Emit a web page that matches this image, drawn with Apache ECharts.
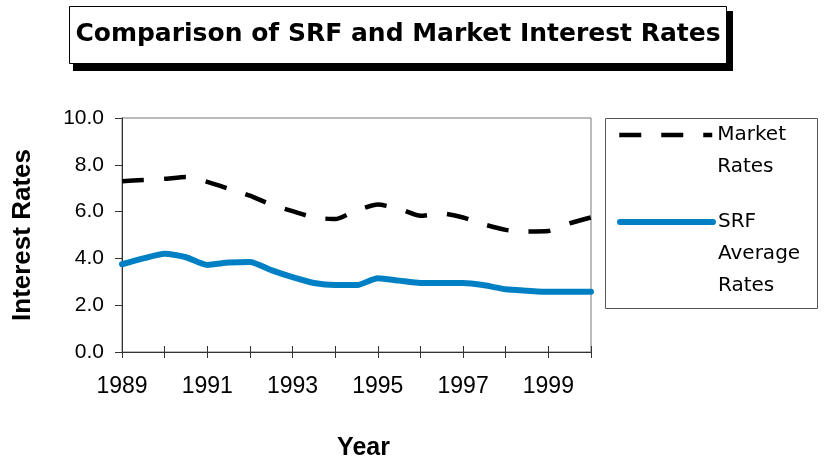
<!DOCTYPE html>
<html>
<head>
<meta charset="utf-8">
<script src="https://cdn.jsdelivr.net/npm/echarts@6/dist/echarts.min.js"></script>
<style>
  html, body { margin: 0; padding: 0; background: #fff; }
  #myChart { width: 826px; height: 458px; }
</style>
</head>
<body>
<div id="myChart"></div>
<script>
// half-year points
const years = [1989, 1989.5, 1990, 1990.5, 1991, 1991.5, 1992, 1992.5, 1993, 1993.5, 1994, 1994.5,
               1995, 1995.5, 1996, 1996.5, 1997, 1997.5, 1998, 1998.5, 1999, 1999.5, 2000];
const marketRates = [7.3, 7.35, 7.4, 7.48, 7.27, 6.98, 6.68, 6.3, 6.02, 5.75, 5.68, 6.05,
                     6.3, 6.12, 5.82, 5.92, 5.75, 5.45, 5.22, 5.15, 5.17, 5.5, 5.75];
const srfRates = [3.75, 4.0, 4.2, 4.05, 3.72, 3.82, 3.85, 3.5, 3.2, 2.95, 2.86, 2.86,
                  3.15, 3.05, 2.95, 2.95, 2.95, 2.85, 2.68, 2.62, 2.57, 2.57, 2.57];
const seriesNames = ['Market Rates', 'SRF Average Rates'];
// blank lines in front keep the first line level with the legend line
const legendLabels = ['\u00a0\nMarket\nRates', '\u00a0\n\u00a0\nSRF\nAverage\nRates'];

function pairs(xs, ys) {
    let out = [];
    xs.forEach((x, i) => { out.push([x, ys[i]]); });
    return out;
}

let myChart = echarts.init(document.getElementById('myChart'));

let tickFont = 'Liberation Sans, Arial, sans-serif';
let xAxisBase = {
    type: 'value',
    min: 1989,
    max: 2000,
    interval: 1,
    splitLine: { show: false }
};
let legendText = { fontFamily: 'DejaVu Sans', fontSize: 20, color: '#000', lineHeight: 32 };

let option = {
    animation: false,
    backgroundColor: '#fff',
    grid: {
        left: 122, right: 235, top: 118, bottom: 106,
        outerBoundsMode: 'none',
        show: true, borderColor: '#777', borderWidth: 1
    },
    graphic: [
        // title box with drop shadow
        { type: 'rect', shape: { x: 73, y: 11, width: 660, height: 60 }, style: { fill: '#000' } },
        { type: 'rect', shape: { x: 69.5, y: 6.5, width: 657, height: 57 }, style: { fill: '#fff', stroke: '#000', lineWidth: 1 } },
        {
            type: 'text', x: 398, y: 34,
            style: {
                text: 'Comparison of SRF and Market Interest Rates',
                fontFamily: 'DejaVu Sans', fontWeight: 'bold', fontSize: 25,
                fill: '#000', align: 'center', verticalAlign: 'middle'
            }
        },
        // legend frame
        { type: 'rect', shape: { x: 605.5, y: 118.5, width: 212, height: 190 }, style: { fill: 'none', stroke: '#555', lineWidth: 1 } }
    ],
    legend: [
        {
            data: [seriesNames[0]],
            orient: 'vertical', left: 617, top: 87, padding: 0,
            itemWidth: 93, itemHeight: 14, selectedMode: false,
            formatter: () => legendLabels[0],
            itemStyle: { opacity: 0 },
            lineStyle: { width: 4.5, type: [22, 20], cap: 'butt' },
            textStyle: legendText
        },
        {
            data: [seriesNames[1]],
            orient: 'vertical', left: 617, top: 142, padding: 0,
            itemWidth: 93, itemHeight: 14, selectedMode: false,
            formatter: () => legendLabels[1],
            itemStyle: { opacity: 0 },
            lineStyle: { width: 6, cap: 'round' },
            textStyle: legendText
        }
    ],
    xAxis: [
        Object.assign({}, xAxisBase, {
            position: 'bottom',
            name: 'Year',
            nameLocation: 'middle',
            nameGap: 84,
            nameTextStyle: { fontFamily: tickFont, fontWeight: 'bold', fontSize: 25, color: '#000', padding: [0, 0, 0, 14] },
            axisLine: { lineStyle: { color: '#333', width: 1 } },
            axisTick: { inside: true, length: 6, lineStyle: { color: '#333' } },
            axisLabel: {
                margin: 23,
                fontFamily: tickFont, fontSize: 23, color: '#000',
                formatter: (v) => (v % 2 === 1 ? String(v) : '')
            }
        }),
        Object.assign({}, xAxisBase, {
            position: 'top',
            offset: -234,
            axisLine: { show: false },
            axisTick: { inside: true, length: 6, lineStyle: { color: '#333' } },
            axisLabel: { show: false }
        })
    ],
    yAxis: {
        type: 'value',
        min: 0,
        max: 10,
        interval: 2,
        name: 'Interest Rates',
        nameLocation: 'middle',
        nameGap: 86,
        nameTextStyle: { fontFamily: tickFont, fontWeight: 'bold', fontSize: 26, color: '#000' },
        axisLine: { show: true, lineStyle: { color: '#333', width: 1 } },
        axisTick: { show: true, length: 7, lineStyle: { color: '#333' } },
        splitLine: { show: false },
        axisLabel: {
            margin: 18,
            fontFamily: tickFont, fontSize: 21, color: '#000',
            formatter: (v) => v.toFixed(1)
        }
    },
    series: [
        {
            name: seriesNames[0],
            type: 'line',
            data: pairs(years, marketRates),
            showSymbol: false,
            symbol: 'none',
            smooth: 0.2,
            lineStyle: { color: '#000', width: 4.5, type: [22, 20], cap: 'butt' },
            itemStyle: { color: '#000' }
        },
        {
            name: seriesNames[1],
            type: 'line',
            data: pairs(years, srfRates),
            showSymbol: false,
            symbol: 'none',
            smooth: 0.2,
            lineStyle: { color: '#0080c4', width: 6, cap: 'round' },
            itemStyle: { color: '#0080c4' }
        }
    ]
};
myChart.setOption(option);
</script>
</body>
</html>
